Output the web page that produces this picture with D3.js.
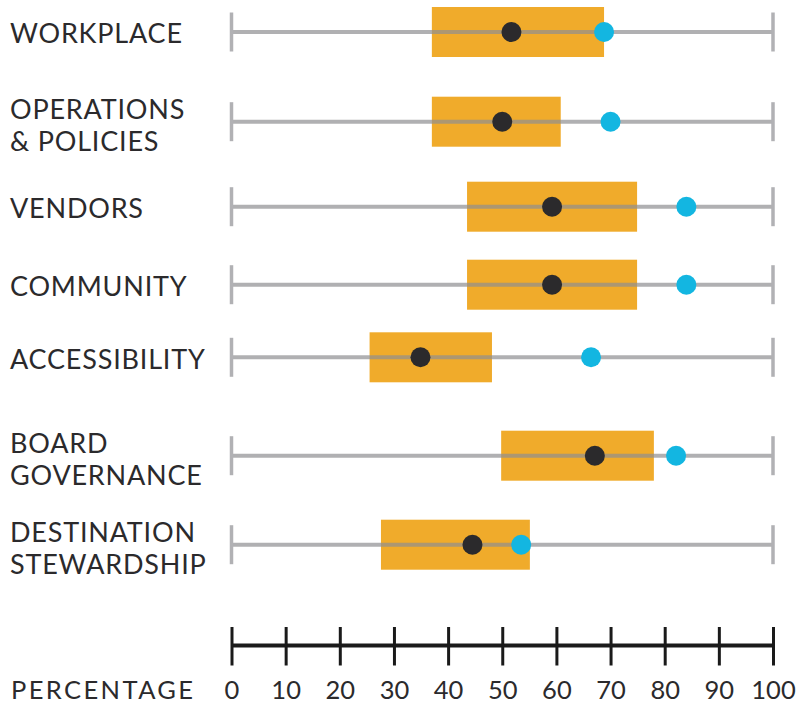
<!DOCTYPE html>
<html>
<head>
<meta charset="utf-8">
<script src="https://cdn.jsdelivr.net/npm/d3@7"></script>
<style>
  body { margin: 0; background: #fff; }
  text { font-family: Lato, "Noto Sans", sans-serif; fill: #2b2a2c; }
</style>
</head>
<body>
<svg width="801" height="704"></svg>
<script>
const categories = ['WORKPLACE', 'OPERATIONS\n& POLICIES', 'VENDORS', 'COMMUNITY',
  'ACCESSIBILITY', 'BOARD\nGOVERNANCE', 'DESTINATION\nSTEWARDSHIP'];
const rangeLow = [37.0, 37.0, 43.5, 43.5, 25.5, 49.8, 27.6];
const rangeHigh = [68.8, 60.8, 74.9, 74.9, 48.1, 78.0, 55.1];
const average = [51.7, 50.0, 59.2, 59.2, 34.9, 67.1, 44.5];
const target = [68.8, 70.0, 84.0, 84.0, 66.4, 82.1, 53.5];
const tickValues = [0, 10, 20, 30, 40, 50, 60, 70, 80, 90, 100];

const svg = d3.select('svg');

const x = d3.scaleLinear()
    .domain([0, 100])
    .range([231.5, 773]);

// rows are not evenly spaced in the original
const y = d3.scaleOrdinal()
    .domain(categories)
    .range([32, 121.7, 206.7, 284.7, 357.3, 455.7, 544.7]);

const rows = categories.map((c, i) => ({
  name: c,
  lo: rangeLow[i],
  hi: rangeHigh[i],
  avg: average[i],
  tgt: target[i]
}));

const row = svg.selectAll('g.row')
    .data(rows)
  .enter().append('g')
    .attr('class', 'row')
    .attr('transform', d => `translate(0, ${y(d.name)})`);

row.append('rect')
    .attr('x', d => x(d.lo))
    .attr('y', -25)
    .attr('width', d => x(d.hi) - x(d.lo))
    .attr('height', 50)
    .attr('fill', '#f0ab2b');

row.append('line')
    .attr('x1', x(0))
    .attr('x2', x(100))
    .attr('stroke', '#8e8e92')
    .attr('stroke-opacity', 0.7)
    .attr('stroke-width', 4);

row.selectAll('line.cap')
    .data([0, 100])
  .enter().append('line')
    .attr('class', 'cap')
    .attr('x1', d => x(d))
    .attr('x2', d => x(d))
    .attr('y1', -19.5)
    .attr('y2', 19.5)
    .attr('stroke', '#b1b1b4')
    .attr('stroke-width', 3.5);

row.append('circle')
    .attr('cx', d => x(d.avg))
    .attr('r', 10)
    .attr('fill', '#2b2a2c');

row.append('circle')
    .attr('cx', d => x(d.tgt))
    .attr('r', 10)
    .attr('fill', '#13b6e1');

row.append('text')
    .attr('x', 10)
    .attr('font-size', 27)
    .attr('letter-spacing', 0.8)
    .each(function(d) {
      const lines = d.name.split('\n');
      const t = d3.select(this);
      lines.forEach((l, i) => {
        t.append('tspan')
            .attr('x', 10)
            .attr('y', lines.length === 1 ? 11.3 : -3 + i * 32.5)
            .text(l);
      });
    });

// bottom axis
const axis = svg.append('g')
    .attr('transform', 'translate(0, 645)')
    .call(d3.axisBottom(x).tickValues(tickValues).tickSize(0).tickFormat(d3.format('d')));

axis.select('.domain')
    .attr('stroke', '#1a1a1a')
    .attr('stroke-width', 4);

axis.selectAll('.tick line')
    .attr('y1', -18)
    .attr('y2', 20.5)
    .attr('stroke', '#1a1a1a')
    .attr('stroke-width', 3);

axis.selectAll('.tick text')
    .attr('y', 53.5)
    .attr('dy', null)
    .attr('font-size', 25.5)
    .attr('font-family', 'Lato, sans-serif')
    .attr('fill', '#2b2a2c');

svg.append('text')
    .attr('x', 11)
    .attr('y', 698.5)
    .attr('font-size', 25.5)
    .attr('letter-spacing', 2.4)
    .text('PERCENTAGE');
</script>
</body>
</html>
